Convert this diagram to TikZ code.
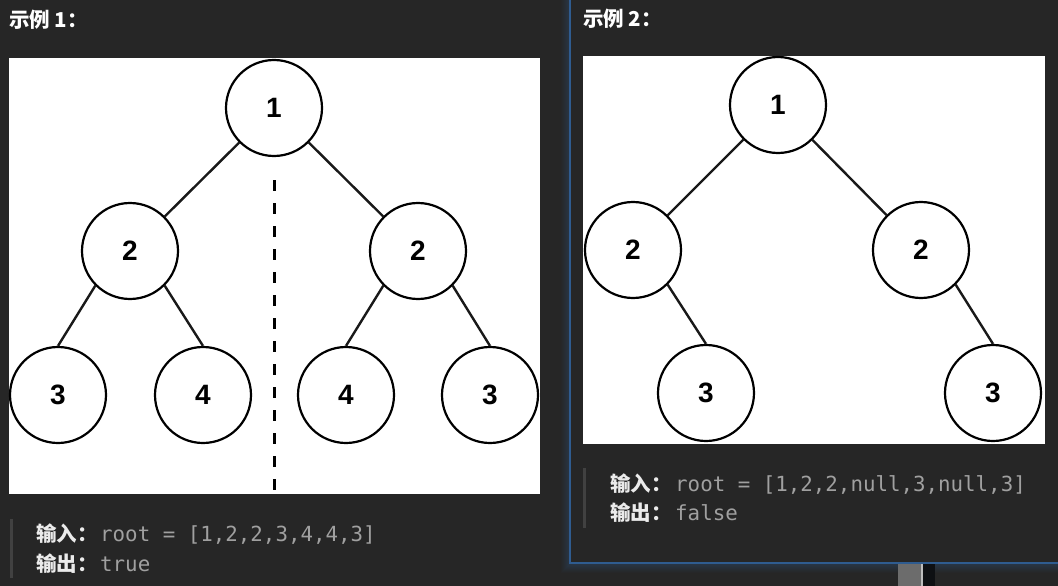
\documentclass[tikz,border=0pt]{standalone}
\usepackage{fontspec}
\setmainfont{Liberation Sans}
\newfontfamily\cjk{Noto Sans CJK SC}
\newfontfamily\mono{DejaVu Sans Mono}
\definecolor{bg}{HTML}{262626}
\definecolor{panelblue}{HTML}{2F5C90}
\definecolor{codegray}{HTML}{A0A0A0}
\definecolor{bargray}{HTML}{414141}
\definecolor{thumb}{HTML}{6C6C6C}
\definecolor{darkblock}{HTML}{0E1013}
\tikzset{
  tnode/.style={circle, draw=black, line width=2.2pt, fill=white, minimum size=96pt, inner sep=0pt,
    font=\fontsize{28}{28}\selectfont\bfseries},
  tedge/.style={draw=black!90, line width=2.4pt},
  header/.style={anchor=base west, inner sep=0pt, text=white, font=\cjk\bfseries\fontsize{20.5}{24}\selectfont},
  label/.style={anchor=base west, inner sep=0pt, text=white!92!black, font=\cjk\bfseries\fontsize{20.5}{24}\selectfont},
  code/.style={anchor=base west, inner sep=0pt, text=codegray, font=\mono\fontsize{20.8}{24}\selectfont},
  quotebar/.style={fill=bargray, draw=none},
  imgbox/.style={fill=white, draw=none}
}
\begin{document}
\begin{tikzpicture}[x=1pt,y=-1pt]
\useasboundingbox (0,0) rectangle (1058,586);
\fill[bg] (0,0) rectangle (1058,586);

% right panel glow and border
\foreach \i in {1,...,9}{
  \pgfmathsetmacro{\op}{0.32*(1-\i/10)}
  \draw[panelblue, opacity=\op, line width=1pt] (570-\i,0) -- (570-\i,563+\i) -- (1058,563+\i);
}
\draw[panelblue, line width=2pt] (570,0) -- (570,563) -- (1058,563);

% scrollbar
\fill[thumb] (898,564) rectangle (922,586);
\fill[white!55!thumb] (921,564) rectangle (922.5,586);
\fill[darkblock] (922.5,564) rectangle (935,586);

% headers
\node[header] (h1) at (9,27.5) {示例 1：};
\node[header] (h2) at (583,26.5) {示例 2：};

% ---------- example 1 ----------
\node[imgbox, minimum width=531pt, minimum height=436pt, inner sep=0pt] (img1) at (274.5,276) {};
\node[tnode] (a1) at (274,108) {1};
\node[tnode] (a2) at (130,251) {2};
\node[tnode] (a3) at (418,251) {2};
\node[tnode] (a4) at (58,395) {3};
\node[tnode] (a5) at (203,395) {4};
\node[tnode] (a6) at (346,395) {4};
\node[tnode] (a7) at (490,395) {3};
\draw[tedge] (a1) -- (a2);
\draw[tedge] (a1) -- (a3);
\draw[tedge] (a2.225) -- (a4.north);
\draw[tedge] (a2.315) -- (a5.north);
\draw[tedge] (a3.225) -- (a6.north);
\draw[tedge] (a3.315) -- (a7.north);
\coordinate (m1) at (274.5,180);
\coordinate (m2) at (274.5,492);
\draw[black, line width=3pt, dash pattern=on 11pt off 12pt] (m1) -- (m2);

\fill[quotebar] (9.5,519) rectangle (12.5,578);
\node[label] (in1) at (36,541) {输入：};
\node[code] (ic1) at (100,541) {root = [1,2,2,3,4,4,3]};
\node[label] (out1) at (36,571) {输出：};
\node[code] (oc1) at (100,571) {true};

% ---------- example 2 ----------
\node[imgbox, minimum width=462pt, minimum height=388pt, inner sep=0pt] (img2) at (814,250) {};
\node[tnode] (b1) at (778,105) {1};
\node[tnode] (b2) at (633,250) {2};
\node[tnode] (b3) at (921,250) {2};
\node[tnode] (b4) at (706,393) {3};
\node[tnode] (b5) at (993,393) {3};
\draw[tedge] (b1) -- (b2);
\draw[tedge] (b1) -- (b3);
\draw[tedge] (b2.315) -- (b4.north);
\draw[tedge] (b3.315) -- (b5.north);

\fill[quotebar] (583,468) rectangle (586,528);
\node[label] (in2) at (610,491) {输入：};
\node[code] (ic2) at (675,491) {root = [1,2,2,null,3,null,3]};
\node[label] (out2) at (610,520.5) {输出：};
\node[code] (oc2) at (675,520.5) {false};
\end{tikzpicture}
\end{document}
